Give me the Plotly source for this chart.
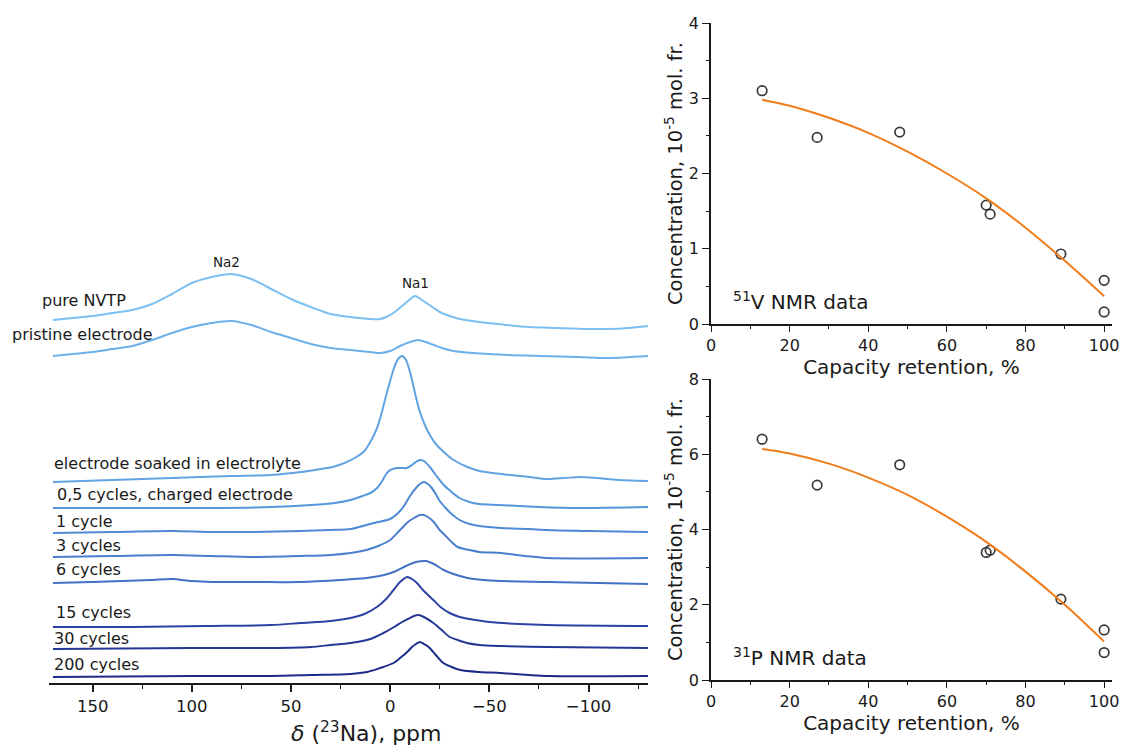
import plotly.graph_objects as go

# ---------------- data: 23Na NMR spectra (ppm, intensity above own baseline, a.u.) --------
names = ["pure NVTP", "pristine electrode", "electrode soaked in electrolyte",
         "0,5 cycles, charged electrode", "1 cycle", "3 cycles", "6 cycles",
         "15 cycles", "30 cycles", "200 cycles"]
offsets = [363, 327, 201, 175, 150, 126, 100, 56, 34, 6]

ppm_pure = [170, 160, 150, 140, 130, 120, 110, 100, 90, 80, 70, 60, 50, 40, 30, 20, 10, 5, 2, 0,
            -3, -6, -9, -12.5, -16, -19, -22, -25, -30, -35, -45, -59, -70, -84, -100, -110, -120, -130]
int_pure = [0, 2, 4, 7, 10, 16, 26, 37, 43, 46, 41, 31, 21, 13, 6, 3, 1, 1, 3, 5,
            9, 14, 19, 24, 20, 16, 12, 8, 4, 1, -2, -5, -7, -8, -9, -9, -8, -6]

ppm_pristine = [170, 160, 150, 140, 130, 120, 110, 100, 90, 80, 70, 60, 50, 40, 30, 20, 10, 5, 0,
                -5, -10, -14, -18, -22, -26, -32, -42, -60, -76, -95, -110, -130]
int_pristine = [0, 2, 4, 7, 10, 16, 23, 29, 33, 35, 31, 24, 18, 12, 8, 6, 4, 3, 5,
                10, 14, 16, 14, 11, 8, 5, 3, 1, 0, -1, -2, 0]

ppm_soaked = [170, 140, 110, 80, 60, 45, 35, 29, 23, 17, 13, 10, 7, 5, 3, 1, -1, -2.5, -4, -6,
              -8, -10, -11.6, -13, -15, -17.5, -20, -23, -27, -32, -39, -45, -56, -70, -79, -88,
              -96, -104, -115, -130]
int_soaked = [0, 2, 4, 6, 7, 10, 13, 15, 19, 25, 31, 40, 52, 64, 79, 94, 108, 117, 123, 126,
              122, 110, 97, 85, 70, 57, 47, 38, 30, 22, 15, 11, 8, 5, 3, 4,
              5, 4, 2, 1]

ppm_c05 = [170, 130, 93, 60, 40, 28, 20, 14, 10, 6.6, 4, 2, 0, -3.4, -6, -8.4, -11, -13, -15,
           -17, -20, -23, -27, -31, -35, -40, -45, -55, -75, -96, -130]
int_c05 = [0, 0, 0, 1, 3, 5, 8, 12, 15, 20, 27, 34, 38, 40, 40, 40, 43, 46, 48,
           47, 41, 33, 23, 16, 10, 6, 4, 3, 1, 0, 1]

ppm_c1 = [170, 140, 110, 90, 70, 45, 30, 20, 12, 6, 0, -4, -7, -10, -13, -15, -17, -19, -21,
          -23, -25, -28, -31, -35, -40, -45, -56, -70, -79, -100, -130]
int_c1 = [0, 1, 2, 1, 1, 2, 3, 4, 8, 11, 14, 20, 27, 37, 45, 49, 51, 49, 45,
          39, 32, 25, 19, 13, 9, 7, 5, 4, 3, 2, 1]

ppm_c3 = [170, 140, 110, 90, 70, 45, 30, 20, 12, 6, 0, -5, -9, -12, -15, -17, -19, -22, -25,
          -28, -31, -34, -40, -45, -56, -68, -79, -130]
int_c3 = [0, 1, 2, 1, 0, 1, 2, 4, 7, 11, 17, 27, 35, 39, 42, 42, 40, 35, 27,
          21, 15, 10, 7, 5, 4, 1, -1, -1]

ppm_c6 = [170, 150, 135, 120, 110, 100, 90, 70, 45, 25, 12, 3, -3, -8, -13, -18, -22, -27, -32,
          -39, -47, -56, -80, -130]
int_c6 = [0, 1, 2, 3, 4, 2, 1, 1, 1, 3, 5, 8, 12, 17, 21, 22, 19, 13, 9,
          5, 3, 2, 1, -1]

ppm_c15 = [170, 130, 93, 60, 45, 30, 20, 13, 6.7, 2, -1.7, -5, -8.6, -11, -13.5, -17, -21.8, -26,
           -30, -35, -40, -50, -65, -79, -130]
int_c15 = [0, 0, 1, 2, 4, 6, 9, 13, 20, 28, 37, 45, 50, 48, 44, 36, 27, 19,
           14, 10, 8, 5, 3, 2, 1]

ppm_c30 = [170, 100, 60, 40, 30, 20, 10, 3.4, -2, -6, -9, -12, -14.3, -17, -21.8, -26, -30, -34,
           -38.7, -45, -55.6, -80, -130]
int_c30 = [0, 1, 1, 2, 4, 6, 10, 16, 22, 27, 30, 33, 34, 32, 26, 19, 12, 9,
           6, 4, 3, 2, 1]

ppm_c200 = [170, 100, 60, 40, 20, 11.6, 5, -1.7, -5, -8.6, -11, -13, -15, -17, -19.4, -23, -26.8,
            -31, -35.4, -45, -55.6, -70, -80, -130]
int_c200 = [0, 1, 1, 2, 3, 5, 9, 14, 19, 25, 30, 33, 35, 33, 30, 22, 14,
            10, 7, 5, 4, 2, 1, 1]

spectra_ppm = [ppm_pure, ppm_pristine, ppm_soaked, ppm_c05, ppm_c1, ppm_c3, ppm_c6, ppm_c15, ppm_c30, ppm_c200]
spectra_int = [int_pure, int_pristine, int_soaked, int_c05, int_c1, int_c3, int_c6, int_c15, int_c30, int_c200]

# ---------------- data: defect concentration vs capacity retention ----------------
cap_ret = [13, 27, 48, 70, 71, 89, 100, 100]
conc_V = [3.10, 2.48, 2.55, 1.58, 1.46, 0.93, 0.58, 0.16]
conc_P = [6.40, 5.18, 5.72, 3.39, 3.45, 2.15, 1.33, 0.73]
fit_x = [13, 20, 30, 40, 50, 60, 70, 80, 90, 100]
fit_V = [2.98, 2.90, 2.74, 2.54, 2.29, 2.00, 1.67, 1.28, 0.84, 0.37]
fit_P = [6.14, 6.02, 5.75, 5.38, 4.92, 4.34, 3.67, 2.88, 2.00, 1.02]

# ---------------- styling ----------------
W, H = 1121, 747
FONT = "DejaVu Sans"
TXT = "#1a1a1a"
colors = ['#7cc0f2', '#6cb0ea', '#62a3e2', '#5797dc', '#4f8ad4',
          '#4a7fcc', '#4371c4', '#2b42a2', '#243795', '#1d2b88']
label_pos = [(40, 300), (10, 334), (52, 464), (55, 494), (54, 521),
             (54, 545), (54, 569), (54, 612), (52, 638), (52, 664)]


def px(x):
    return x / W


def py(y):
    return 1 - y / H


fig = go.Figure()

for p, v, off, c in zip(spectra_ppm, spectra_int, offsets, colors):
    fig.add_trace(go.Scatter(x=p, y=[off + t for t in v], mode="lines",
                             line=dict(color=c, width=2, shape="spline", smoothing=0.8),
                             xaxis="x", yaxis="y", showlegend=False, hoverinfo="skip"))

orange = "#f07d1b"
mk = dict(symbol="circle-open", size=9.5, color="#383838", line=dict(width=1.7))
fig.add_trace(go.Scatter(x=cap_ret, y=conc_V, mode="markers", marker=mk,
                         xaxis="x2", yaxis="y2", showlegend=False))
fig.add_trace(go.Scatter(x=fit_x, y=fit_V, mode="lines",
                         line=dict(color=orange, width=2, shape="spline"),
                         xaxis="x2", yaxis="y2", showlegend=False))
fig.add_trace(go.Scatter(x=cap_ret, y=conc_P, mode="markers", marker=mk,
                         xaxis="x3", yaxis="y3", showlegend=False))
fig.add_trace(go.Scatter(x=fit_x, y=fit_P, mode="lines",
                         line=dict(color=orange, width=2, shape="spline"),
                         xaxis="x3", yaxis="y3", showlegend=False))

axcol = "#1a1a1a"


def right_x(anchor):
    return dict(domain=[px(711), px(1112)], range=[0, 102], anchor=anchor, automargin=False,
                showline=True, linecolor=axcol, linewidth=1.5, showgrid=False, zeroline=False,
                ticks="outside", ticklen=6, tickwidth=1.2, tickcolor=axcol,
                tick0=0, dtick=20, tickfont=dict(size=16, family=FONT, color=TXT),
                minor=dict(ticks="outside", ticklen=3, tickwidth=1, tickcolor=axcol, dtick=10, tick0=0),
                title=dict(text="Capacity retention, %", font=dict(size=20, family=FONT, color=TXT), standoff=4))


def right_y(anchor, dom, rng, dt, mdt):
    return dict(domain=dom, range=rng, anchor=anchor, automargin=False,
                showline=True, linecolor=axcol, linewidth=1.5, showgrid=False, zeroline=False,
                ticks="outside", ticklen=7, tickwidth=1.2, tickcolor=axcol,
                tick0=0, dtick=dt, tickfont=dict(size=16, family=FONT, color=TXT),
                minor=dict(ticks="outside", ticklen=3, tickwidth=1, tickcolor=axcol, dtick=mdt, tick0=0),
                title=dict(text="Concentration, 10<sup>-5</sup> mol. fr.",
                           font=dict(size=19.5, family=FONT, color=TXT), standoff=1))


fig.update_layout(
    width=W, height=H, margin=dict(l=0, r=0, t=0, b=0, autoexpand=False),
    paper_bgcolor="white", plot_bgcolor="white",
    font=dict(family=FONT, color=TXT),
    xaxis=dict(domain=[px(49), px(648)], range=[172, -130], anchor="y", automargin=False,
               showline=True, linecolor=axcol, linewidth=2, showgrid=False, zeroline=False,
               ticks="outside", ticklen=7, tickwidth=1.5, tickcolor=axcol,
               tick0=0, dtick=50, tickfont=dict(size=16.5, family=FONT, color=TXT),
               minor=dict(ticks="outside", ticklen=4, tickwidth=1.2, tickcolor=axcol, dtick=25, tick0=0)),
    yaxis=dict(domain=[py(683), py(240)], range=[0, 443], visible=False, fixedrange=True,
               automargin=False),
    xaxis2=right_x("y2"),
    yaxis2=right_y("x2", [py(324), py(23)], [0, 4], 1, 0.5),
    xaxis3=right_x("y3"),
    yaxis3=right_y("x3", [py(680), py(379)], [0, 8], 2, 1),
)

for n, (lx, ly) in zip(names, label_pos):
    fig.add_annotation(text=n, x=px(lx), y=py(ly), xref="paper", yref="paper",
                       xanchor="left", yanchor="middle", showarrow=False,
                       font=dict(size=16, family=FONT, color=TXT))

fig.add_annotation(text="<i>δ</i> (<sup>23</sup>Na), ppm", x=px(366), y=py(732),
                   xref="paper", yref="paper", xanchor="center", yanchor="middle",
                   showarrow=False, font=dict(size=22, family=FONT, color=TXT))
fig.add_annotation(text="Na2", x=px(226), y=py(262), xref="paper", yref="paper",
                   xanchor="center", yanchor="middle", showarrow=False,
                   font=dict(size=13.5, family=FONT, color=TXT))
fig.add_annotation(text="Na1", x=px(415), y=py(283), xref="paper", yref="paper",
                   xanchor="center", yanchor="middle", showarrow=False,
                   font=dict(size=13.5, family=FONT, color=TXT))
fig.add_annotation(text="<sup>51</sup>V NMR data", x=px(731), y=py(301), xref="paper", yref="paper",
                   xanchor="left", yanchor="middle", showarrow=False,
                   font=dict(size=20, family=FONT, color=TXT))
fig.add_annotation(text="<sup>31</sup>P NMR data", x=px(731), y=py(657), xref="paper", yref="paper",
                   xanchor="left", yanchor="middle", showarrow=False,
                   font=dict(size=20, family=FONT, color=TXT))

fig.write_html("out.html", config={"displayModeBar": False},
               post_script="document.body.style.margin='0px';")
